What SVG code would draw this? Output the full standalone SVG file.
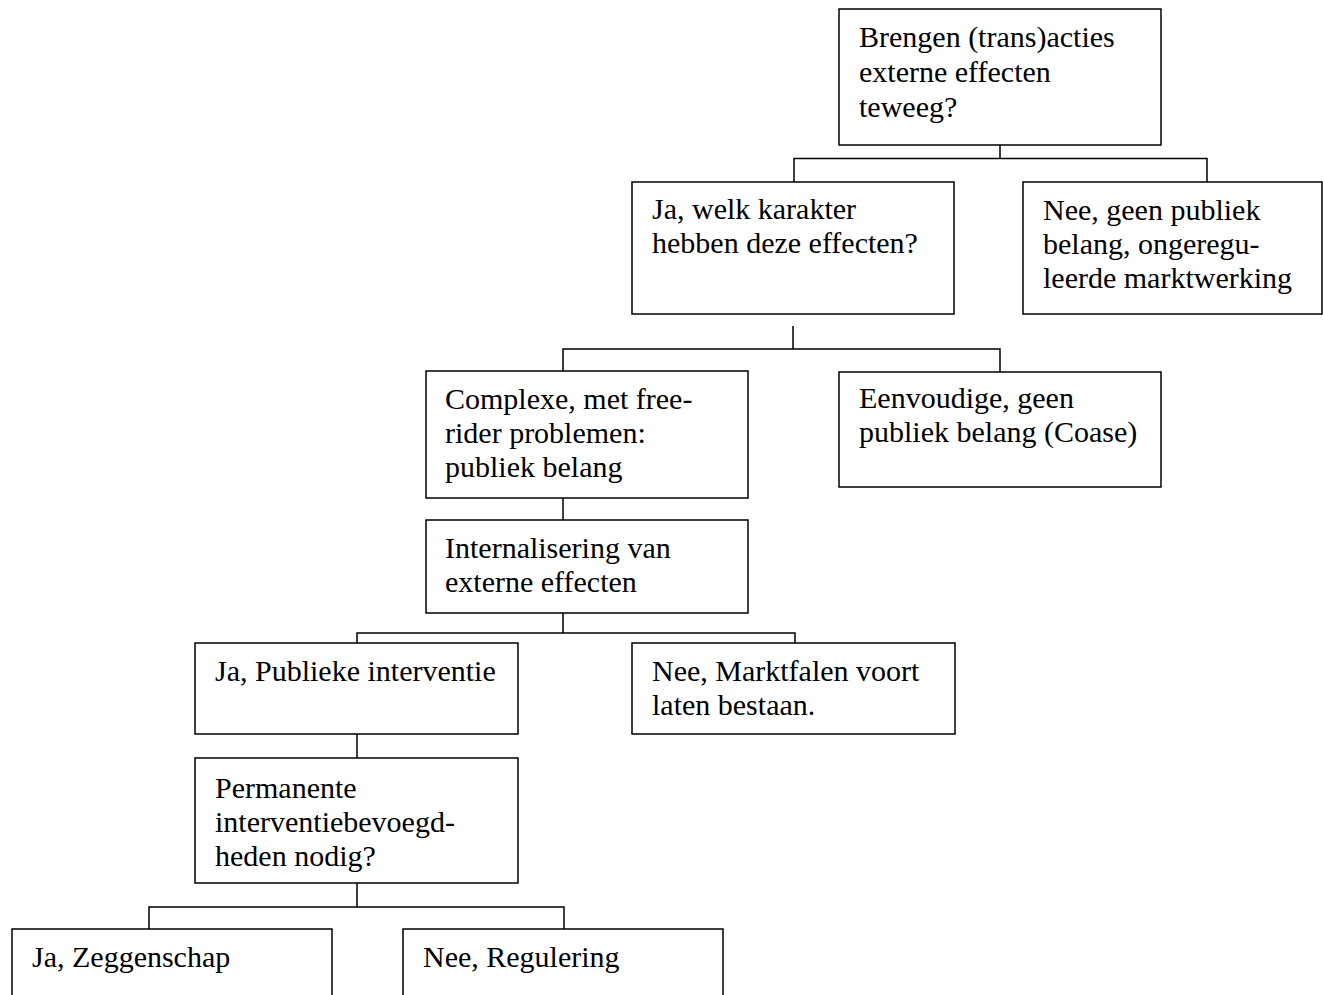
<svg xmlns="http://www.w3.org/2000/svg" width="1323" height="995" viewBox="0 0 1323 995">
  <style>
    .box { fill: #ffffff; stroke: #000000; stroke-width: 1.5; }
    .link { fill: none; stroke: #000000; stroke-width: 1.5; }
    .lbl { font-family: "Liberation Serif", "Times New Roman", serif; font-size: 30px; fill: #000000; }
  </style>
  <rect x="0" y="0" width="1323" height="995" fill="#ffffff"/>

  <!-- connectors -->
  <g id="connectors">
    <path class="link" d="M1000,145 V158.5 M794,182 V158.5 H1207 V182"/>
    <path class="link" d="M793,326 V349 M563,371 V349 H1000 V372"/>
    <path class="link" d="M563,498 V520"/>
    <path class="link" d="M563,613 V633 M357,643 V633 H795 V643"/>
    <path class="link" d="M357,734 V758"/>
    <path class="link" d="M357,883 V907 M149,929 V907 H564 V929"/>
  </g>

  <g id="n-root">
    <rect class="box" x="839" y="9" width="322" height="136"/>
    <text class="lbl" x="859" y="47">Brengen (trans)acties</text>
    <text class="lbl" x="859" y="82">externe effecten</text>
    <text class="lbl" x="859" y="117">teweeg?</text>
  </g>

  <g id="n-ja-karakter">
    <rect class="box" x="632" y="182" width="322" height="132"/>
    <text class="lbl" x="652" y="219">Ja, welk karakter</text>
    <text class="lbl" x="652" y="253">hebben deze effecten?</text>
  </g>

  <g id="n-nee-markt">
    <rect class="box" x="1023" y="182" width="299" height="132"/>
    <text class="lbl" x="1043" y="220">Nee, geen publiek</text>
    <text class="lbl" x="1043" y="254">belang, ongeregu-</text>
    <text class="lbl" x="1043" y="288">leerde marktwerking</text>
  </g>

  <g id="n-complexe">
    <rect class="box" x="426" y="371" width="322" height="127"/>
    <text class="lbl" x="445" y="409">Complexe, met free-</text>
    <text class="lbl" x="445" y="443">rider problemen:</text>
    <text class="lbl" x="445" y="477">publiek belang</text>
  </g>

  <g id="n-eenvoudige">
    <rect class="box" x="839" y="372" width="322" height="115"/>
    <text class="lbl" x="859" y="408">Eenvoudige, geen</text>
    <text class="lbl" x="859" y="442">publiek belang (Coase)</text>
  </g>

  <g id="n-internalisering">
    <rect class="box" x="426" y="520" width="322" height="93"/>
    <text class="lbl" x="445" y="558">Internalisering van</text>
    <text class="lbl" x="445" y="592">externe effecten</text>
  </g>

  <g id="n-publieke-interventie">
    <rect class="box" x="195" y="643" width="323" height="91"/>
    <text class="lbl" x="215" y="681">Ja, Publieke interventie</text>
  </g>

  <g id="n-marktfalen">
    <rect class="box" x="632" y="643" width="323" height="91"/>
    <text class="lbl" x="652" y="681">Nee, Marktfalen voort</text>
    <text class="lbl" x="652" y="715">laten bestaan.</text>
  </g>

  <g id="n-permanente">
    <rect class="box" x="195" y="758" width="323" height="125"/>
    <text class="lbl" x="215" y="798">Permanente</text>
    <text class="lbl" x="215" y="832">interventiebevoegd-</text>
    <text class="lbl" x="215" y="866">heden nodig?</text>
  </g>

  <g id="n-zeggenschap">
    <rect class="box" x="12" y="929" width="320" height="80"/>
    <text class="lbl" x="32" y="967">Ja, Zeggenschap</text>
  </g>

  <g id="n-regulering">
    <rect class="box" x="403" y="929" width="320" height="80"/>
    <text class="lbl" x="423" y="967">Nee, Regulering</text>
  </g>
</svg>
